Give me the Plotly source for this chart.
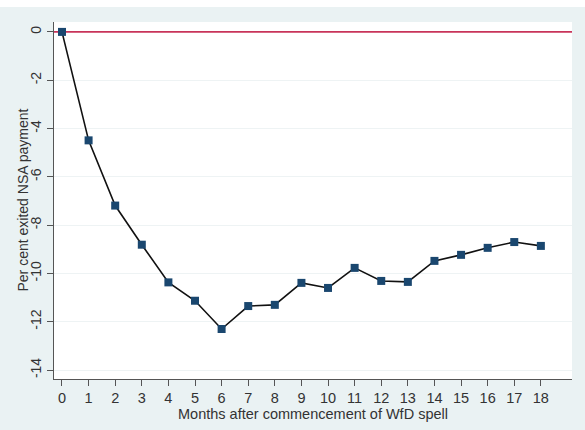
import plotly.graph_objects as go

months = list(range(19))
exited = [0, -4.49, -7.19, -8.81, -10.37, -11.13, -12.3, -11.35, -11.3, -10.39,
          -10.6, -9.77, -10.31, -10.35, -9.48, -9.23, -8.94, -8.7, -8.86]
y_ticks = [0, -2, -4, -6, -8, -10, -12, -14]
y_labels = ["0", "-2", "-4", "-6", "-8", "-10", "-12", "-14"]
x_title = "Months after commencement of WfD spell"
y_title = "Per cent exited NSA payment"

font = "Liberation Sans, Arial, sans-serif"

fig = go.Figure()
fig.add_trace(go.Scatter(
    x=[-0.3, 19.17], y=[0, 0], mode="lines",
    line=dict(color="#C8345A", width=1.6), hoverinfo="skip", showlegend=False,
))
fig.add_trace(go.Scatter(
    x=months, y=exited, mode="lines+markers",
    line=dict(color="#111111", width=1.6),
    marker=dict(symbol="square", size=8, color="#1A476F"),
    showlegend=False,
))

fig.update_layout(
    width=585, height=430,
    margin=dict(l=54, r=13, t=22, b=51),
    paper_bgcolor="#EAF2F3",
    plot_bgcolor="#FFFFFF",
    font=dict(family=font, size=14, color="#333333"),
    shapes=[dict(type="rect", xref="paper", yref="paper",
                 x0=-0.2, x1=1.2, y0=1 + 15 / 357, y1=1.2,
                 fillcolor="#FFFFFF", line=dict(width=0), layer="above")],
    annotations=[dict(text=y_title, xref="paper", yref="paper", x=0, y=0.5,
                      xanchor="center", yanchor="middle", xshift=-32,
                      textangle=-90, showarrow=False,
                      font=dict(size=14, color="#333333"))],
)
fig.update_xaxes(
    range=[-0.3, 19.17], tickvals=months, ticktext=[str(m) for m in months],
    showgrid=False, zeroline=False,
    showline=True, linecolor="#555555", linewidth=1,
    ticks="outside", ticklen=6, tickcolor="#555555",
    tickfont=dict(size=14.5, color="#333333"),
    title=dict(text=x_title, standoff=2, font=dict(size=14.5, color="#333333")),
)
fig.update_yaxes(
    range=[-14.37, 0.41], tickvals=y_ticks, ticktext=y_labels, tickangle=-90,
    showgrid=True, gridcolor="#EEF3F4", gridwidth=1, zeroline=False,
    showline=True, linecolor="#555555", linewidth=1,
    ticks="outside", ticklen=6, tickcolor="#555555",
    tickfont=dict(size=14, color="#333333"),
)

fig.write_html("out.html")
